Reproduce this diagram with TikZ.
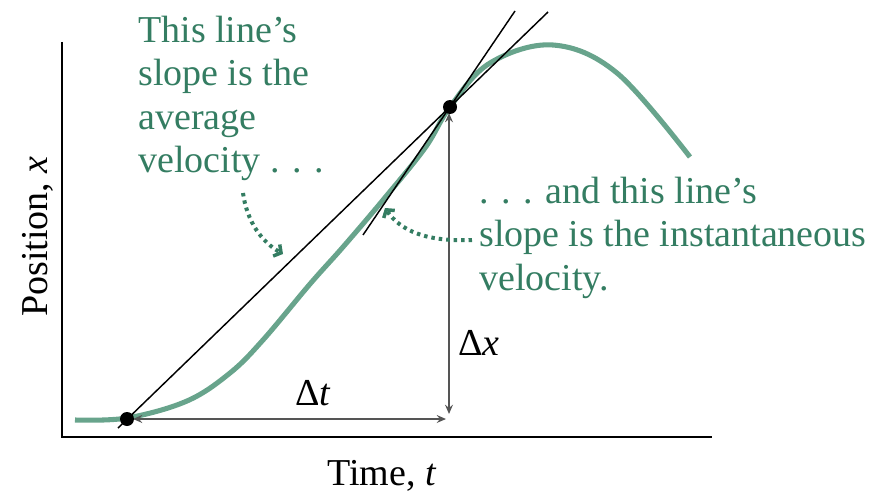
\documentclass[tikz,border=0pt]{standalone}
\usepackage{fontspec}
\setmainfont{Liberation Serif}
\usetikzlibrary{arrows.meta}
\definecolor{txtgreen}{RGB}{52,125,98}
\definecolor{curvegreen}{RGB}{104,164,140}
\definecolor{dimgray}{RGB}{85,85,85}
\begin{document}
\begin{tikzpicture}[x=0.75pt,y=-0.75pt,
  lbl/.style={inner sep=0pt,font=\fontsize{28.5}{32.5}\selectfont},
  greentxt/.style={lbl,text=txtgreen,align=left},
  axis/.style={line width=1.9pt,black},
  blackline/.style={line width=1.1pt,black},
  dimarrow/.style={line width=1.1pt,dimgray,{Stealth[length=7pt,width=6pt,inset=2.5pt]}-{Stealth[length=7pt,width=6pt,inset=2.5pt]}},
  dotarrow/.style={line width=3pt,txtgreen,dash pattern=on 2.6pt off 3pt,-{Straight Barb[length=4pt,width=10pt,line width=2.6pt]}},
  dotmark/.style={circle,fill=black,inner sep=0pt,minimum size=10.5pt}]
\useasboundingbox (0,0) rectangle (882,492);
% axes
\coordinate (O) at (62,437);
\coordinate (ytop) at (62,42);
\coordinate (xend) at (712,437);
\draw[axis] (ytop) -- (O) -- (xend);
% curve
\draw[line width=3.8pt,curvegreen] plot[smooth,tension=0.6] coordinates {
 (75,420) (127,418) (187,401) (230,373) (263,340) (310,284) (343,247) (383,200) (425,148) (450,107)
 (490,63) (553,45) (617,73) (690,157)};
% points
\coordinate (A) at (127,419);
\coordinate (B) at (450,107);
\coordinate (avgL) at (118,428);
\coordinate (avgU) at (548,12);
\coordinate (tanL) at (363,235);
\coordinate (tanU) at (515,11);
\draw[blackline] (avgL) -- (avgU);
\draw[blackline] (tanL) -- (tanU);
% delta arrows
\coordinate (tL) at (133,419);
\coordinate (tR) at (446,419);
\coordinate (xT) at (449,113);
\coordinate (xB) at (449,414);
\draw[dimarrow] (tL) -- (tR);
\draw[dimarrow] (xB) -- (xT);
\node[dotmark] (dotA) at (A) {};
\node[dotmark] (dotB) at (B) {};
% labels
\node[lbl,anchor=base west] (dt) at (295,405) {Δ\textit{t}};
\node[lbl,anchor=base west] (dx) at (458,355) {Δ\textit{x}};
\node[lbl,anchor=base west] (tlabel) at (327,485) {Time, \textit{t}};
\node[lbl,anchor=base west,rotate=90] (xlabel) at (47,317) {Position, \textit{x}};
\node[greentxt,anchor=north west] (avgtxt) at (138,16) {This line’s\\slope is the\\average\\velocity . . .};
\node[greentxt,anchor=north west] (insttxt) at (479,177) {. . . and this line’s\\slope is the instantaneous\\velocity.};
% dotted arrows
\coordinate (d1s) at (243,193);
\coordinate (d1e) at (283,254);
\coordinate (d2s) at (472,240);
\coordinate (d2e) at (385,208);
\draw[dotarrow] (d1s) .. controls (247,222) and (262,242) .. (d1e);
\draw[dotarrow] (d2s) .. controls (425,242) and (400,230) .. (d2e);
\end{tikzpicture}
\end{document}
